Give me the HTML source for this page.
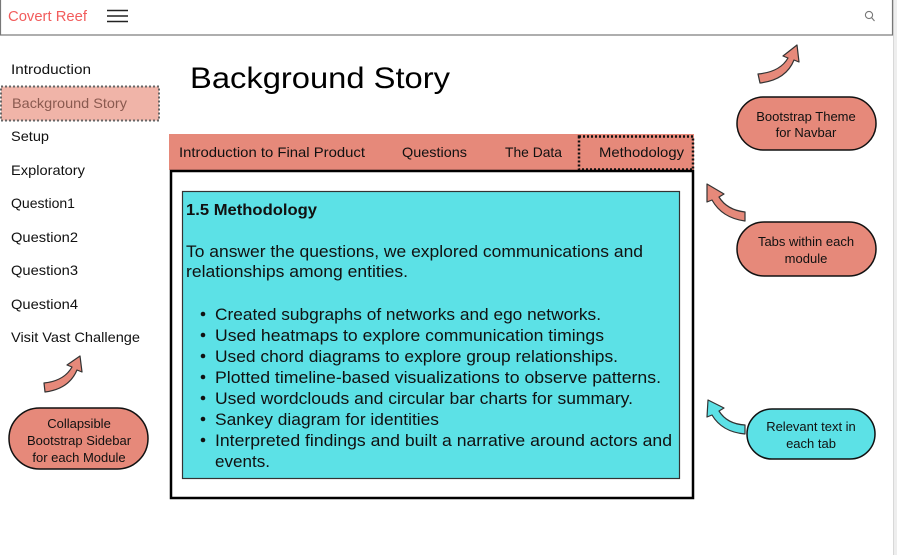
<!DOCTYPE html>
<html><head><meta charset="utf-8"><style>
html,body{margin:0;padding:0;background:#fff;width:897px;height:555px;overflow:hidden}
svg{display:block;font-family:"Liberation Sans",sans-serif}
</style></head><body>
<svg width="897" height="555" viewBox="0 0 897 555" xmlns="http://www.w3.org/2000/svg">
<rect x="0" y="0" width="897" height="555" fill="#fff"/>
<rect x="893" y="0" width="4" height="555" fill="#eeeeee"/>
<line x1="893.5" y1="0" x2="893.5" y2="555" fill="none" stroke="#d8d8d8"/>
<!-- navbar -->
<rect x="0.5" y="-1" width="892" height="36" fill="#fff" stroke="#777" stroke-width="1.2"/>
<text x="8" y="21" font-size="15" fill="#f25c5c" textLength="79" lengthAdjust="spacingAndGlyphs">Covert Reef</text>
<g stroke="#222" stroke-width="1.4"><line x1="107" y1="10.5" x2="128" y2="10.5"/><line x1="107" y1="16" x2="128" y2="16"/><line x1="107" y1="21.5" x2="128" y2="21.5"/></g>
<circle cx="869" cy="15" r="3.6" fill="none" stroke="#777" stroke-width="1.1"/>
<line x1="871.5" y1="17.5" x2="874.5" y2="21" stroke="#777" stroke-width="1.1"/>
<!-- sidebar -->
<rect x="1" y="86.5" width="158" height="34" fill="#f0b4a8" stroke="#666" stroke-width="2" stroke-dasharray="2,2"/>
<g font-size="14" fill="#111">
<text x="11" y="74" textLength="80" lengthAdjust="spacingAndGlyphs">Introduction</text>
<text x="12" y="108" fill="#8a5a50" textLength="115" lengthAdjust="spacingAndGlyphs">Background Story</text>
<text x="11" y="141" textLength="38" lengthAdjust="spacingAndGlyphs">Setup</text>
<text x="11" y="175" textLength="74" lengthAdjust="spacingAndGlyphs">Exploratory</text>
<text x="11" y="208" textLength="64" lengthAdjust="spacingAndGlyphs">Question1</text>
<text x="11" y="242" textLength="67" lengthAdjust="spacingAndGlyphs">Question2</text>
<text x="11" y="275" textLength="67" lengthAdjust="spacingAndGlyphs">Question3</text>
<text x="11" y="309" textLength="67" lengthAdjust="spacingAndGlyphs">Question4</text>
<text x="11" y="342" textLength="129" lengthAdjust="spacingAndGlyphs">Visit Vast Challenge</text>
</g>
<!-- title -->
<text x="190" y="88" font-size="30" fill="#000" textLength="260" lengthAdjust="spacingAndGlyphs">Background Story</text>
<!-- tabs -->
<rect x="169" y="134" width="525" height="36" fill="#e6897a"/>
<rect x="579" y="136.5" width="114" height="33" fill="none" stroke="#111" stroke-width="2.5" stroke-dasharray="2,2"/>
<g font-size="14" fill="#111">
<text x="179" y="157" textLength="186" lengthAdjust="spacingAndGlyphs">Introduction to Final Product</text>
<text x="402" y="157" textLength="65" lengthAdjust="spacingAndGlyphs">Questions</text>
<text x="505" y="157" textLength="57" lengthAdjust="spacingAndGlyphs">The Data</text>
<text x="599" y="157" textLength="85" lengthAdjust="spacingAndGlyphs">Methodology</text>
</g>
<!-- content -->
<rect x="171" y="171" width="522" height="327" fill="#fff" stroke="#000" stroke-width="2.5"/>
<rect x="182.5" y="191.5" width="497" height="287" fill="#5ce1e6" stroke="#333" stroke-width="1.2"/>
<text x="186" y="215" font-size="16" font-weight="bold" fill="#111" textLength="131" lengthAdjust="spacingAndGlyphs">1.5 Methodology</text>
<g font-size="17" fill="#111">
<text x="186" y="257" textLength="457" lengthAdjust="spacingAndGlyphs">To answer the questions, we explored communications and</text>
<text x="186" y="277" textLength="222" lengthAdjust="spacingAndGlyphs">relationships among entities.</text>
<text x="215" y="320" textLength="386" lengthAdjust="spacingAndGlyphs">Created subgraphs of networks and ego networks.</text>
<text x="215" y="341" textLength="389" lengthAdjust="spacingAndGlyphs">Used heatmaps to explore communication timings</text>
<text x="215" y="362" textLength="403" lengthAdjust="spacingAndGlyphs">Used chord diagrams to explore group relationships.</text>
<text x="215" y="383" textLength="446" lengthAdjust="spacingAndGlyphs">Plotted timeline-based visualizations to observe patterns.</text>
<text x="215" y="404" textLength="418" lengthAdjust="spacingAndGlyphs">Used wordclouds and circular bar charts for summary.</text>
<text x="215" y="425" textLength="224" lengthAdjust="spacingAndGlyphs">Sankey diagram for identities</text>
<text x="215" y="446" textLength="457" lengthAdjust="spacingAndGlyphs">Interpreted findings and built a narrative around actors and</text>
<text x="215" y="467" textLength="55" lengthAdjust="spacingAndGlyphs">events.</text>
</g>
<g fill="#111"><circle cx="203" cy="314" r="2.3"/><circle cx="203" cy="335" r="2.3"/><circle cx="203" cy="356" r="2.3"/><circle cx="203" cy="377" r="2.3"/><circle cx="203" cy="398" r="2.3"/><circle cx="203" cy="419" r="2.3"/><circle cx="203" cy="440" r="2.3"/></g>
<!-- callouts -->
<g stroke="#111" stroke-width="1.5">
<rect x="737" y="97" width="139" height="53" rx="26.5" fill="#e6897a"/>
<rect x="737" y="222" width="139" height="54" rx="27" fill="#e6897a"/>
<rect x="747" y="409" width="128" height="50" rx="25" fill="#5ce1e6"/>
<rect x="9" y="408" width="139" height="61" rx="30.5" fill="#e6897a"/>
</g>
<g font-size="13" fill="#111" text-anchor="middle">
<text x="806" y="121">Bootstrap Theme</text><text x="806" y="137">for Navbar</text>
<text x="806" y="246">Tabs within each</text><text x="806" y="263">module</text>
<text x="811" y="431">Relevant text in</text><text x="811" y="448">each tab</text>
<text x="79" y="428">Collapsible</text><text x="79" y="445">Bootstrap Sidebar</text><text x="79" y="462">for each Module</text>
</g>
<!-- arrows -->
<g stroke="#333" stroke-width="1.2" stroke-linejoin="round">
<path d="M758,74 Q780,72 788,58 L783,56 L797,45 L799,62 L794,60 Q786,80 760,83 Z" fill="#e6897a"/>
<path d="M745,212 Q727,210 719,197 L724,194 L707,184 L707,202 L712,200 Q722,218 745,221 Z" fill="#e6897a"/>
<path d="M44,383 Q64,381 72,367 L67,365 L80,356 L82,372 L77,370 Q69,389 45,392 Z" fill="#e6897a"/>
<path d="M745,425 Q727,424 719,411 L724,408 L708,400 L707,417 L712,415 Q722,432 745,434 Z" fill="#5ce1e6"/>
</g>
</svg>
</body></html>
